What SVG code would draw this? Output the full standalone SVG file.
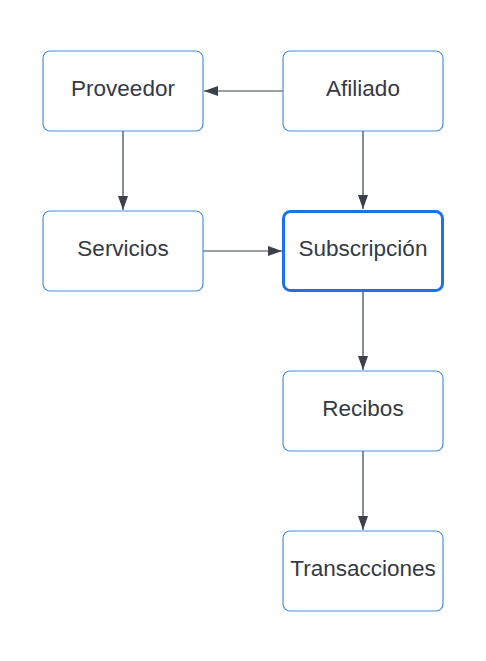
<svg xmlns="http://www.w3.org/2000/svg" width="486" height="661" viewBox="0 0 486 661">
<defs>
<style>
.box{fill:#ffffff;stroke:#4a90e2;stroke-width:1.2}
.sel{fill:#ffffff;stroke:#1a73e8;stroke-width:3}
.lbl{font-family:"Liberation Sans",Arial,sans-serif;font-size:22.5px;fill:#333a45;text-anchor:middle;dominant-baseline:central}
.edge{stroke:#3a414a;stroke-width:1.2;fill:none;marker-end:url(#ah)}
</style>
<marker id="ah" viewBox="0 0 14 10" refX="14" refY="5" markerWidth="14" markerHeight="10" markerUnits="userSpaceOnUse" orient="auto">
<path d="M0,0 L14,5 L0,10 Z" fill="#3a414a"/>
</marker>
</defs>
<rect width="486" height="661" fill="#ffffff"/>
<g id="connectors">
<path class="edge" d="M283,91 L204,91"/>
<path class="edge" d="M123,131 L123,210"/>
<path class="edge" d="M363,131 L363,209"/>
<path class="edge" d="M203,251 L282,251"/>
<path class="edge" d="M363,292 L363,370"/>
<path class="edge" d="M363,451 L363,530"/>
</g>
<g id="proveedor"><rect class="box" x="43" y="51" width="160" height="80" rx="7"/><text class="lbl" x="123" y="88">Proveedor</text></g>
<g id="afiliado"><rect class="box" x="283" y="51" width="160" height="80" rx="7"/><text class="lbl" x="363" y="88">Afiliado</text></g>
<g id="servicios"><rect class="box" x="43" y="211" width="160" height="80" rx="7"/><text class="lbl" x="123" y="248">Servicios</text></g>
<g id="subscripcion"><rect class="sel" x="283.5" y="211.5" width="159" height="79" rx="7"/><text class="lbl" x="363" y="248">Subscripción</text></g>
<g id="recibos"><rect class="box" x="283" y="371" width="160" height="80" rx="7"/><text class="lbl" x="363" y="408">Recibos</text></g>
<g id="transacciones"><rect class="box" x="283" y="531" width="160" height="80" rx="7"/><text class="lbl" x="363" y="568">Transacciones</text></g>
</svg>
